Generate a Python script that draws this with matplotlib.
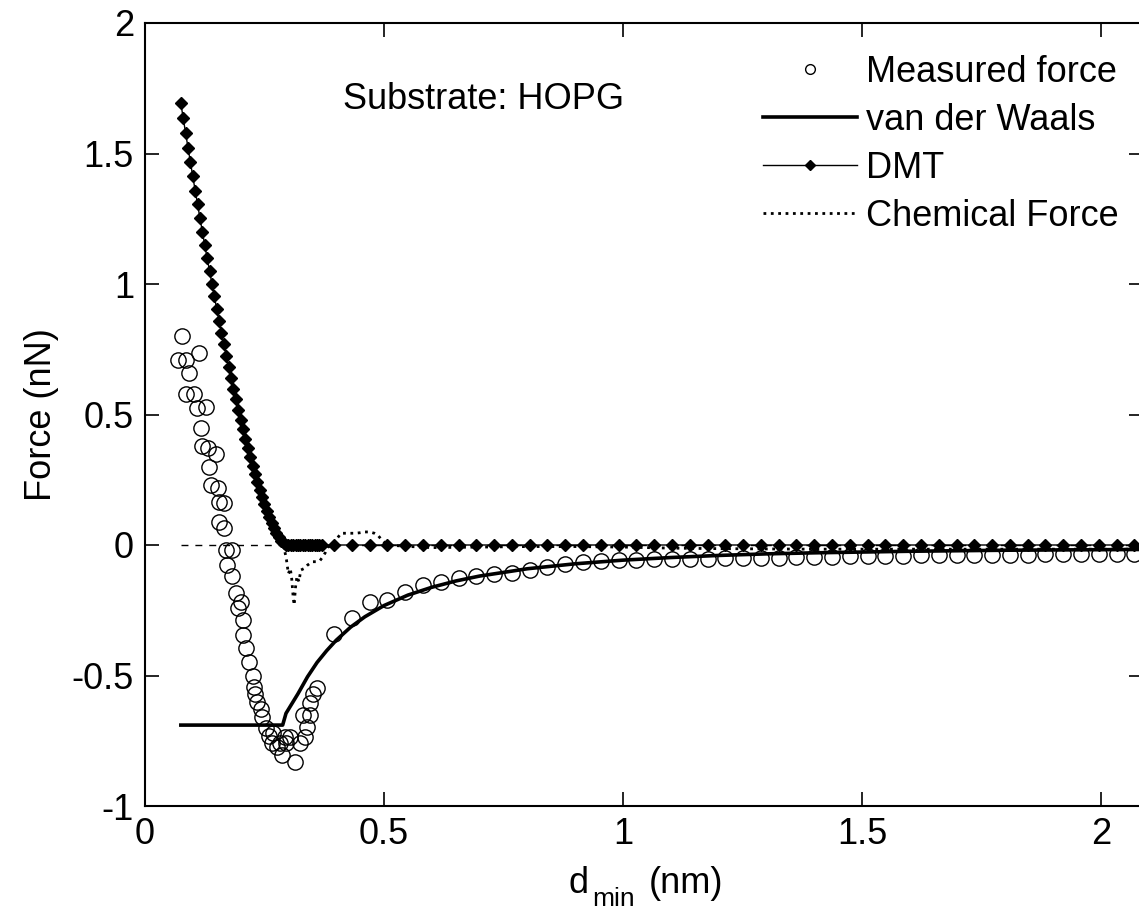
import numpy as np
import matplotlib
matplotlib.use('Agg')
import matplotlib.pyplot as plt
from matplotlib.ticker import FormatStrFormatter

plt.rcParams['font.family'] = ['Liberation Sans', 'DejaVu Sans']
plt.rcParams['axes.unicode_minus'] = False

FS = 26

# measured force, dense part near the surface (nm, nN)
meas_x_near = [0.068, 0.085, 0.077, 0.112, 0.092, 0.085, 0.103, 0.127, 0.109, 0.117,
               0.120, 0.131, 0.148, 0.134, 0.138, 0.152, 0.155, 0.166, 0.155, 0.166,
               0.169, 0.183, 0.172, 0.183, 0.190, 0.200, 0.194, 0.204, 0.204, 0.211,
               0.218, 0.225, 0.228, 0.231, 0.235, 0.243, 0.245, 0.253, 0.260, 0.265,
               0.268, 0.276, 0.282, 0.286, 0.293, 0.296, 0.303, 0.314, 0.324, 0.335,
               0.338, 0.331, 0.345, 0.345, 0.352, 0.359]
meas_y_near = [0.71, 0.71, 0.80, 0.735, 0.66, 0.58, 0.58, 0.53, 0.525, 0.447,
               0.38, 0.37, 0.35, 0.30, 0.23, 0.22, 0.166, 0.16, 0.09, 0.065,
               -0.02, -0.02, -0.077, -0.12, -0.185, -0.217, -0.243, -0.287, -0.345, -0.395,
               -0.447, -0.50, -0.545, -0.57, -0.60, -0.63, -0.66, -0.70, -0.73, -0.76,
               -0.72, -0.773, -0.76, -0.805, -0.734, -0.76, -0.734, -0.83, -0.76, -0.734,
               -0.696, -0.651, -0.651, -0.607, -0.57, -0.549]

# common distance grid further out
d_far = [0.396, 0.433, 0.470, 0.507, 0.545, 0.582, 0.619, 0.656, 0.693, 0.731,
         0.768, 0.805, 0.842, 0.879, 0.917, 0.954, 0.991, 1.028, 1.065, 1.103,
         1.140, 1.177, 1.214, 1.251, 1.289, 1.326, 1.363, 1.400, 1.437, 1.475,
         1.512, 1.549, 1.586, 1.623, 1.661, 1.698, 1.735, 1.772, 1.809, 1.847,
         1.884, 1.921, 1.958, 1.995, 2.033, 2.070]
meas_y_far = [-0.34, -0.28, -0.22, -0.21, -0.18, -0.155, -0.14, -0.127, -0.12, -0.113,
              -0.106, -0.095, -0.083, -0.072, -0.066, -0.061, -0.058, -0.056, -0.055, -0.054,
              -0.053, -0.052, -0.051, -0.050, -0.049, -0.048, -0.047, -0.046, -0.045, -0.044,
              -0.043, -0.042, -0.041, -0.040, -0.040, -0.039, -0.038, -0.038, -0.037, -0.037,
              -0.036, -0.036, -0.035, -0.035, -0.034, -0.034]

# van der Waals fit
vdw_x = [0.075, 0.288, 0.295, 0.32, 0.34, 0.36, 0.38, 0.40, 0.43, 0.46,
         0.50, 0.55, 0.60, 0.65, 0.70, 0.80, 0.90, 1.00, 1.10, 1.20,
         1.30, 1.40, 1.50, 1.60, 1.70, 1.80, 1.90, 2.00, 2.10]
vdw_y = [-0.69, -0.69, -0.645, -0.57, -0.505, -0.45, -0.405, -0.365, -0.315, -0.275,
         -0.232, -0.192, -0.162, -0.138, -0.119, -0.091, -0.072, -0.058, -0.048, -0.040,
         -0.034, -0.030, -0.027, -0.024, -0.022, -0.020, -0.019, -0.018, -0.017]

# DMT contact force
dmt_x_near = [0.075, 0.080, 0.085, 0.090, 0.095, 0.100, 0.105, 0.110, 0.115, 0.120,
              0.125, 0.130, 0.135, 0.140, 0.145, 0.150, 0.155, 0.160, 0.165, 0.170,
              0.175, 0.180, 0.185, 0.190, 0.195, 0.200, 0.205, 0.210, 0.215, 0.220,
              0.225, 0.230, 0.235, 0.240, 0.245, 0.250, 0.255, 0.260, 0.265, 0.270,
              0.275, 0.280, 0.285, 0.290, 0.295, 0.300, 0.305, 0.310, 0.315, 0.320,
              0.325, 0.330, 0.335, 0.340, 0.345, 0.350, 0.355, 0.360, 0.365, 0.370]
dmt_y_near = [1.692, 1.635, 1.578, 1.522, 1.467, 1.412, 1.358, 1.305, 1.252, 1.201,
              1.149, 1.099, 1.050, 1.001, 0.953, 0.905, 0.859, 0.813, 0.769, 0.725,
              0.682, 0.640, 0.598, 0.558, 0.519, 0.480, 0.443, 0.406, 0.371, 0.337,
              0.304, 0.272, 0.241, 0.212, 0.183, 0.157, 0.131, 0.107, 0.085, 0.065,
              0.046, 0.030, 0.016, 0.006, 0.0, 0.0, 0.0, 0.0, 0.0, 0.0,
              0.0, 0.0, 0.0, 0.0, 0.0, 0.0, 0.0, 0.0, 0.0, 0.0]
dmt_y_far = [0.0] * 46

# chemical force (remainder)
chem_x = [0.290, 0.296, 0.300, 0.304, 0.307, 0.310, 0.312, 0.315, 0.318, 0.322,
          0.326, 0.333, 0.340, 0.350, 0.358, 0.366, 0.372, 0.377, 0.382, 0.390,
          0.400, 0.410, 0.420, 0.430, 0.440, 0.450, 0.460, 0.470, 0.480, 0.487,
          0.495, 0.507, 0.545, 0.600, 0.700, 0.800, 0.900, 1.000, 1.100, 1.200,
          1.300, 1.400, 1.500, 1.600, 1.700, 1.800, 1.900, 2.000, 2.100]
chem_y = [0.0, -0.057, -0.11, -0.09, -0.13, -0.20, -0.23, -0.16, -0.12, -0.14,
          -0.096, -0.09, -0.077, -0.064, -0.064, -0.06, -0.045, -0.03, -0.01, 0.0,
          0.02, 0.045, 0.045, 0.045, 0.045, 0.047, 0.05, 0.05, 0.045, 0.038,
          0.02, 0.0, -0.005, -0.01, -0.008, -0.006, -0.006, -0.008, -0.012, -0.014,
          -0.015, -0.016, -0.016, -0.016, -0.016, -0.016, -0.016, -0.016, -0.016]

meas_x = meas_x_near + d_far
meas_y = meas_y_near + meas_y_far
dmt_x = dmt_x_near + d_far
dmt_y = dmt_y_near + dmt_y_far

fig = plt.figure(figsize=(11.39, 9.14), dpi=100)
ax = fig.add_axes([145 / 1139, 108 / 914, 998 / 1139, 783 / 914])

ax.plot([0.075, 2.1], [0, 0], color='k', lw=1, ls=(0, (5, 5)))
ax.plot(meas_x, meas_y, 'o', mfc='none', mec='k', ms=11, mew=1.0,
        label='Measured force', zorder=3)
ax.plot(vdw_x, vdw_y, '-', color='k', lw=2.6, label='van der Waals', zorder=4)
ax.plot(dmt_x, dmt_y, '-', color='k', lw=1.0, marker='D', ms=6.5, mfc='k', mec='k',
        label='DMT', zorder=4)
ax.plot(chem_x, chem_y, ':', color='k', lw=2.0, label='Chemical Force', zorder=4)

ax.text(0.414, 1.705, 'Substrate: HOPG', fontsize=FS, va='center', ha='left')

ax.set_xlim(0, 2.088)
ax.set_ylim(-1, 2)
ax.set_xticks([0, 0.5, 1, 1.5, 2])
ax.set_yticks([-1, -0.5, 0, 0.5, 1, 1.5, 2])
ax.xaxis.set_major_formatter(FormatStrFormatter('%g'))
ax.yaxis.set_major_formatter(FormatStrFormatter('%g'))
ax.tick_params(direction='in', length=10, width=1.2, labelsize=FS,
               top=True, right=True, pad=8)
for s in ax.spines.values():
    s.set_linewidth(1.5)

# x label with a lowered subscript, laid out like the original
fig.text(568 / 1139, 1 - 893 / 914, 'd', fontsize=FS, va='baseline', ha='left')
fig.text(592 / 1139, 1 - 906 / 914, 'min', fontsize=19, va='baseline', ha='left')
fig.text(649 / 1139, 1 - 893 / 914, '(nm)', fontsize=FS, va='baseline', ha='left')
ax.set_ylabel('Force (nN)', fontsize=FS)
ax.yaxis.set_label_coords(-0.086, 0.5)

leg = ax.legend(loc='upper left', bbox_to_anchor=(763 / 1139, 1 - 55 / 914),
                bbox_transform=fig.transFigure, frameon=False, fontsize=FS,
                handlelength=2.6, handletextpad=0.25, labelspacing=0.36,
                borderpad=0, borderaxespad=0)
for h in leg.legend_handles:
    if h.get_marker() == 'o':
        h.set_markersize(7)
    elif h.get_marker() == 'D':
        h.set_markersize(5.5)

fig.savefig('out.png', dpi=100)
